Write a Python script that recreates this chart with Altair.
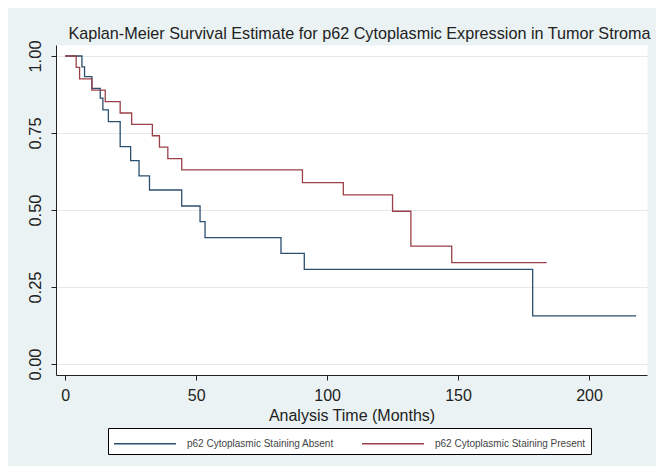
import altair as alt
import pandas as pd

groups = ["p62 Cytoplasmic Staining Absent", "p62 Cytoplasmic Staining Present"]
colors = ["#2b4f6e", "#9a4048"]

absent_time = [0, 6.4, 7.4, 10.2, 13.4, 14.4, 16.5, 21, 25, 28.2, 32.2, 44.5, 51.5, 53.4, 82.4, 91.3, 178.5, 218]
absent_surv = [1, 0.965, 0.933, 0.895, 0.863, 0.825, 0.787, 0.706, 0.660, 0.611, 0.565, 0.513, 0.462, 0.410, 0.359, 0.307, 0.156, 0.156]

present_time = [0, 4.2, 5.5, 10.2, 15.3, 21, 25.4, 33.3, 36, 39.2, 44.5, 90.6, 106.2, 125, 132, 147.6, 183.8]
present_surv = [1, 0.963, 0.926, 0.889, 0.852, 0.815, 0.778, 0.741, 0.704, 0.667, 0.630, 0.589, 0.549, 0.496, 0.383, 0.329, 0.329]

x_ticks = [0, 50, 100, 150, 200]
y_ticks = [0, 0.25, 0.5, 0.75, 1.0]

rows = []
for t, s in zip(absent_time, absent_surv):
    rows.append({"time": t, "surv": s, "group": groups[0]})
for t, s in zip(present_time, present_surv):
    rows.append({"time": t, "surv": s, "group": groups[1]})
df = pd.DataFrame(rows)

FONT = "Liberation Sans"

chart = alt.Chart(df).mark_line(interpolate="step-after", strokeWidth=1.3).encode(
    x=alt.X("time:Q",
            scale=alt.Scale(domain=[-3.5, 222.15], nice=False, zero=False),
            axis=alt.Axis(values=x_ticks, title="Analysis Time (Months)", grid=False,
                          labelFontSize=16, labelBaseline="top", labelPadding=7,
                          titleFontSize=16, titleFontWeight="normal", titleBaseline="alphabetic",
                          titleY=45, titleColor="#222")),
    y=alt.Y("surv:Q",
            scale=alt.Scale(domain=[-0.0357, 1.0357], nice=False, zero=False),
            axis=alt.Axis(values=y_ticks, format=".2f", title=None, grid=True,
                          labelFontSize=16.5, labelAngle=270, labelAlign="center",
                          labelBaseline="alphabetic", labelPadding=11)),
    color=alt.Color("group:N",
                    scale=alt.Scale(domain=groups, range=colors),
                    legend=alt.Legend(title=None, orient="none", legendX=52, legendY=383,
                                      direction="horizontal", symbolType="M-1,0H5.53",
                                      symbolSize=361, symbolStrokeWidth=1.5,
                                      labelFontSize=10, labelFont=FONT, labelColor="#444",
                                      labelOffset=53, columnPadding=25, padding=5,
                                      strokeColor="black", fillColor="white",
                                      cornerRadius=0, labelLimit=300)),
    order="time:Q",
).properties(
    width=591,
    height=330,
    padding={"left": 48, "top": 37, "right": 9, "bottom": 91},
    autosize=alt.AutoSizeParams(type="none"),
    title=alt.TitleParams("Kaplan-Meier Survival Estimate for p62 Cytoplasmic Expression in Tumor Stroma",
                          fontSize=16.2, font=FONT, fontWeight="normal", color="#222",
                          anchor="middle", frame="group", dx=8, dy=21, offset=6,
                          baseline="alphabetic"),
).configure(
    background="#eaf2f3",
).configure_view(
    fill="white", stroke="transparent",
).configure_axis(
    domainColor="#222", tickColor="#222", tickSize=5, labelColor="#222",
    labelFont=FONT, titleFont=FONT, gridColor="#e3eaec", gridWidth=1,
)

chart.save("out.html", embed_options={"renderer": "svg", "actions": False})
